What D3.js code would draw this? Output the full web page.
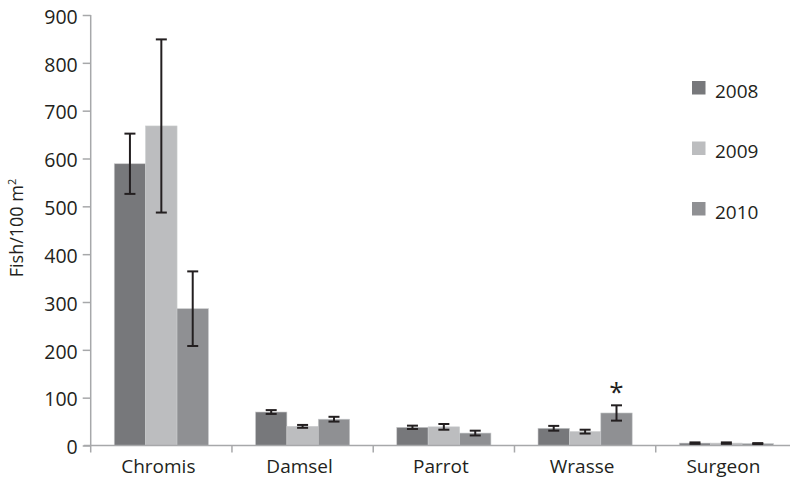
<!DOCTYPE html>
<html>
<head>
<meta charset="utf-8">
<script src="https://cdn.jsdelivr.net/npm/d3@7"></script>
<style>
  body { margin: 0; background: #fff; }
  text { font-family: "Open Sans", "Noto Sans", sans-serif; fill: #231f20; }
</style>
</head>
<body>
<div id="chart"></div>
<script>
// fish density per 100 m2, by family and year
var categories = ["Chromis", "Damsel", "Parrot", "Wrasse", "Surgeon"];
var years = ["2008", "2009", "2010"];
var values2008 = [589, 70, 38, 36, 5];
var values2009 = [668, 40, 39, 29, 5];
var values2010 = [286, 55, 26, 68, 4];
var errors2008 = [63, 4, 3.5, 5, 1.5];
var errors2009 = [181, 3, 6, 4, 1.5];
var errors2010 = [78, 5, 5, 16, 1];
var yTicks = [0, 100, 200, 300, 400, 500, 600, 700, 800, 900];
var starred = [{cat: "Wrasse", year: "2010"}];

var colors = {"2008": "#77787b", "2009": "#bcbdbf", "2010": "#8f9093"};
var axisColor = "#a7a8aa";

var svgWidth = 790, svgHeight = 481;
var margin = {top: 15, left: 90.7, bottom: 35.5};

var series = {
  "2008": {v: values2008, e: errors2008},
  "2009": {v: values2009, e: errors2009},
  "2010": {v: values2010, e: errors2010}
};

var x = d3.scaleBand()
    .domain(categories)
    .range([margin.left, 797]);

var bw = x.bandwidth() / 4.5;
var xYear = d3.scaleBand()
    .domain(years)
    .range([(x.bandwidth() - 3 * bw) / 2, (x.bandwidth() + 3 * bw) / 2]);

var y = d3.scaleLinear()
    .domain([0, 900])
    .range([svgHeight - margin.bottom, margin.top]);

var svg = d3.select("#chart")
    .append("svg")
    .attr("width", svgWidth)
    .attr("height", svgHeight);

// flatten for drawing
var rows = [];
categories.forEach(function(c, i) {
  years.forEach(function(yr) {
    rows.push({cat: c, year: yr, value: series[yr].v[i], err: series[yr].e[i]});
  });
});

// bars
svg.append("g").selectAll("rect")
  .data(rows)
  .enter().append("rect")
    .attr("x", function(d) { return x(d.cat) + xYear(d.year); })
    .attr("y", function(d) { return y(d.value); })
    .attr("width", xYear.bandwidth())
    .attr("height", function(d) { return y(0) - y(d.value); })
    .attr("fill", function(d) { return colors[d.year]; })
    .attr("stroke", "#c9cacc")
    .attr("stroke-width", 0.6);

// axes
var yAxis = d3.axisLeft(y)
    .tickValues(yTicks)
    .tickSize(8)
    .tickSizeOuter(0)
    .tickPadding(5);

var yAxisArea = svg.append("g")
    .attr("transform", "translate(" + margin.left + ",0)")
    .call(yAxis);
yAxisArea.select(".domain").remove();
yAxisArea.selectAll("line").attr("stroke", axisColor).attr("stroke-width", 1.5);
yAxisArea.selectAll("text")
    .attr("dy", "0.42em")
    .style("font-size", "19.5px")
    .style("font-family", "'Open Sans', sans-serif")
    .attr("fill", "#231f20");

svg.append("line")
    .attr("x1", margin.left).attr("x2", margin.left)
    .attr("y1", y(900)).attr("y2", y(0) + 7)
    .attr("stroke", axisColor).attr("stroke-width", 1.5);

svg.append("line")
    .attr("x1", margin.left - 7).attr("x2", svgWidth)
    .attr("y1", y(0)).attr("y2", y(0))
    .attr("stroke", axisColor).attr("stroke-width", 1.5);

// tick marks between categories
svg.append("g").selectAll("line")
  .data(categories.slice(1))
  .enter().append("line")
    .attr("x1", function(d) { return x(d); })
    .attr("x2", function(d) { return x(d); })
    .attr("y1", y(0))
    .attr("y2", y(0) + 7)
    .attr("stroke", axisColor)
    .attr("stroke-width", 1.5);

var xAxis = d3.axisBottom(x).tickSize(0).tickPadding(14);
var xAxisArea = svg.append("g")
    .attr("transform", "translate(-3," + y(0) + ")")
    .call(xAxis);
xAxisArea.select(".domain").remove();
xAxisArea.selectAll("text")
    .style("font-size", "19px")
    .style("font-family", "'Open Sans', sans-serif")
    .attr("fill", "#231f20");

// error bars
var capW = 11;
var eb = svg.append("g").attr("stroke", "#231f20").attr("stroke-width", 2);
rows.forEach(function(d) {
  var cx = x(d.cat) + xYear(d.year) + xYear.bandwidth() / 2;
  eb.append("line")
    .attr("x1", cx).attr("x2", cx)
    .attr("y1", y(d.value + d.err)).attr("y2", y(d.value - d.err));
  eb.append("line")
    .attr("x1", cx - capW / 2).attr("x2", cx + capW / 2)
    .attr("y1", y(d.value + d.err)).attr("y2", y(d.value + d.err));
  eb.append("line")
    .attr("x1", cx - capW / 2).attr("x2", cx + capW / 2)
    .attr("y1", y(d.value - d.err)).attr("y2", y(d.value - d.err));
});

// significance marker
svg.append("g").selectAll("text")
  .data(starred)
  .enter().append("text")
    .attr("x", function(d) { return x(d.cat) + xYear(d.year) + xYear.bandwidth() / 2; })
    .attr("y", function(d) {
      var i = categories.indexOf(d.cat);
      return y(series[d.year].v[i] + series[d.year].e[i]) - 4;
    })
    .attr("text-anchor", "middle")
    .style("font-size", "26px")
    .text("*");

// y label
svg.append("text")
    .attr("transform", "translate(23,228) rotate(-90)")
    .attr("text-anchor", "middle")
    .style("font-size", "18px")
    .html("Fish/100 m<tspan dy='-7' font-size='11px'>2</tspan>");

// legend
var legend = svg.append("g").selectAll("g")
  .data(years)
  .enter().append("g")
    .attr("transform", function(d, i) { return "translate(692," + (81 + i * 60.5) + ")"; });
legend.append("rect")
    .attr("width", 13.5).attr("height", 13.5)
    .attr("fill", function(d) { return colors[d]; });
legend.append("text")
    .attr("x", 23)
    .attr("y", 16.5)
    .style("font-size", "19px")
    .text(function(d) { return d; });
</script>
</body>
</html>
